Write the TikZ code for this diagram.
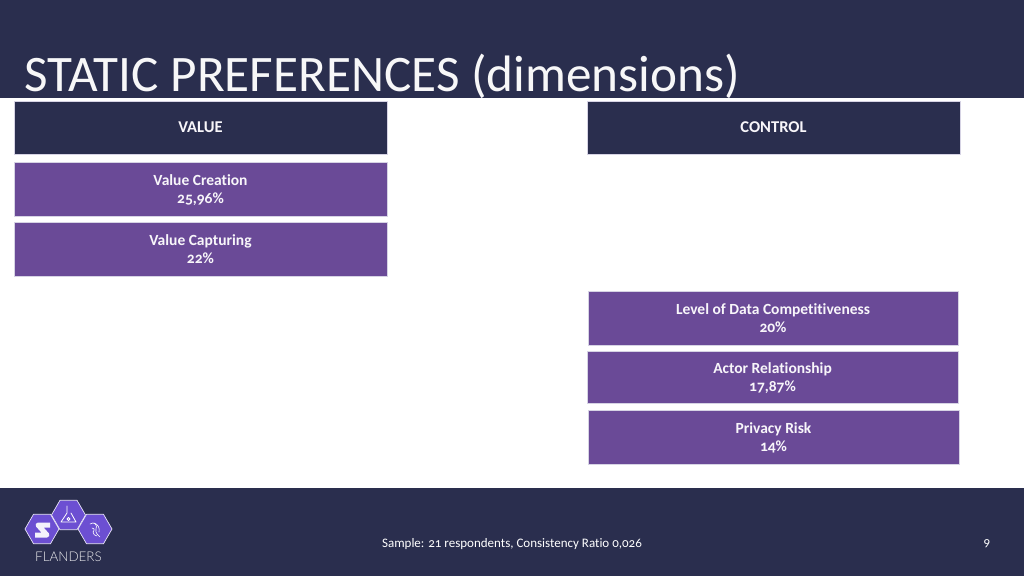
\documentclass[tikz,border=0pt]{standalone}
\usepackage{fontspec}
\setmainfont{Carlito}[Numbers=OldStyle,RawFeature={-liga}]
\newfontfamily\logofont{Lato Light}
\usepackage{xcolor}
\usepackage{tikz}
\usetikzlibrary{positioning}
\usetikzlibrary{shapes.geometric}
\definecolor{navy}{HTML}{2A2E4E}
\definecolor{plum}{HTML}{6A4A97}
\definecolor{edge}{HTML}{D6D3E4}
\definecolor{hexfill}{HTML}{6C4FD2}

\begin{document}
\begin{tikzpicture}[
    x=1pt, y=-1pt,
    box/.style={
        rectangle, draw=edge, line width=0.4pt, text=white!95!plum,
        inner sep=0pt, outer sep=0pt, anchor=north west, align=center,
        font=\fontsize{15.5}{18}\selectfont\bfseries
    },
    head/.style={box, fill=navy, minimum width=373pt, minimum height=53pt, font=\fontsize{16.5}{18}\selectfont\bfseries},
    item/.style={box, fill=plum, minimum width=373pt, minimum height=54pt, text depth=0pt},
    band/.style={rectangle, fill=navy, inner sep=0pt, outer sep=0pt, anchor=north west, minimum width=1024pt},
    hexcell/.style={
        regular polygon, regular polygon sides=6, draw=white!85!hexfill, line width=0.7pt,
        fill=hexfill, minimum size=34pt, inner sep=0pt, outer sep=0pt
    },
    glyph/.style={draw=white, line width=0.8pt, line cap=round, line join=round}
]
\useasboundingbox (0,0) rectangle (1024,576);
\fill[white] (0,0) rectangle (1024,576);

% Bands
\node[band, minimum height=98pt] (topband) at (0,0) {};
\node[band, minimum height=88pt] (footband) at (0,488) {};

% Title
\node[anchor=base west, inner sep=0pt, text=white!96!navy, font=\fontsize{51.2}{53}\selectfont] (title) at (24,91) {STATIC PREFERENCES (dimensions)};

% Left column
\node[head] (value) at (14,101) {VALUE};
\node[item] (creation) at (14,162) {Value Creation\\25,96\%};
\node[item, below=6pt of creation.south west, anchor=north west] (capturing) {Value Capturing\\22\%};

% Right column
\node[head] (control) at (587,101) {CONTROL};
\node[item, minimum width=370pt, minimum height=54pt] (level) at (588,291) {Level of Data Competitiveness\\20\%};
\node[item, minimum width=371pt, minimum height=52pt] (actor) at (587,351) {Actor Relationship\\17,87\%};
\node[item, minimum width=371pt, minimum height=54pt] (privacy) at (588,410) {Privacy Risk\\14\%};

% Footer text
\node[text=white, font=\fontsize{13}{15}\selectfont, inner sep=0pt] (sample) at (512,544) {Sample: 21 respondents, Consistency Ratio 0,026};
\node[text=white, font=\fontsize{13}{15}\selectfont, inner sep=0pt] (page) at (987,544) {9};

% Logo
\node[hexcell] (hexs) at (42,529) {};
\node[hexcell] (hexflask) at (68.5,515) {};
\node[hexcell] (hexlion) at (95,529) {};
\node[text=white!90!navy, font=\logofont\fontsize{13.4}{14}\selectfont, inner sep=0pt] (flanders) at (68.5,557) {FLANDERS};
% S glyph
\draw[white!92!hexfill, line width=5pt, line join=round] (50,525) -- (38,525) -- (47,535) -- (35,535);
% flask glyph
\draw[glyph] (67,506) -- (67,513) -- (61,522) -- (76,522) -- (71,513);
\draw[glyph] (68.5,519) circle (1.5pt);
% lion glyph
\draw[glyph, line width=0.6pt] (90,524) .. controls (94,521) and (98,525) .. (96,529) .. controls (95,533) and (98,535) .. (100,537);
\draw[glyph, line width=0.6pt] (92,528) .. controls (94,527) and (95,530) .. (93,532) .. controls (93,534) and (95,536) .. (97,536);
\draw[glyph, line width=0.6pt] (94,523) .. controls (98,524) and (100,528) .. (99,532);
\end{tikzpicture}
\end{document}
